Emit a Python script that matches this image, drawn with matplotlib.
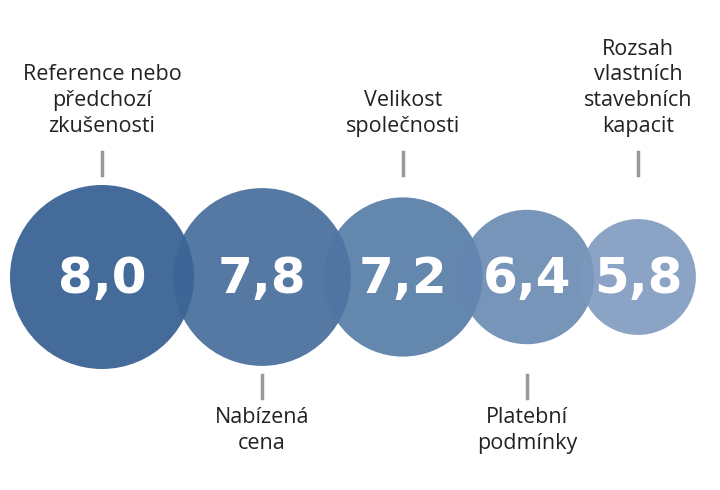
import matplotlib
matplotlib.use("Agg")
import matplotlib.pyplot as plt
from matplotlib.patches import Circle

labels = ["Reference nebo\npředchozí\nzkušenosti", "Nabízená\ncena", "Velikost\nspolečnosti",
          "Platební\npodmínky", "Rozsah\nvlastních\nstavebních\nkapacit"]
values = [8.0, 7.8, 7.2, 6.4, 5.8]
centers_x = [102, 262, 403, 527, 638]
colors = ["#2b578c", "#3d6697", "#4f76a3", "#6485b0", "#7b98bd"]

fig = plt.figure(figsize=(7.2, 4.9), dpi=100)
ax = fig.add_axes([0, 0, 1, 1])
ax.set_xlim(0, 720); ax.set_ylim(490, 0); ax.set_aspect("equal"); ax.axis("off")

cy = 277
for i, (v, cx, c, lab) in enumerate(zip(values, centers_x, colors, labels)):
    r = -32 + 15.5 * v
    ax.add_patch(Circle((cx, cy), r, facecolor=c, edgecolor="none", alpha=0.88, zorder=i))
    ax.text(cx, cy + 2, f"{v:.1f}".replace(".", ","), color="white", fontsize=36, fontweight="bold",
            family=["Liberation Sans Narrow", "DejaVu Sans"], ha="center", va="center", zorder=10)
    if i % 2 == 0:
        ax.plot([cx, cx], [152, 175], color="#999999", lw=2.5)
        ax.text(cx, 137, lab, ha="center", va="bottom", fontsize=15.5, family="Open Sans",
                color="#222222", linespacing=1.3)
    else:
        ax.plot([cx, cx], [375, 398], color="#999999", lw=2.5)
        ax.text(cx, 407, lab, ha="center", va="top", fontsize=15.5, family="Open Sans",
                color="#222222", linespacing=1.3)

fig.savefig("out.png", dpi=100, facecolor="white")
